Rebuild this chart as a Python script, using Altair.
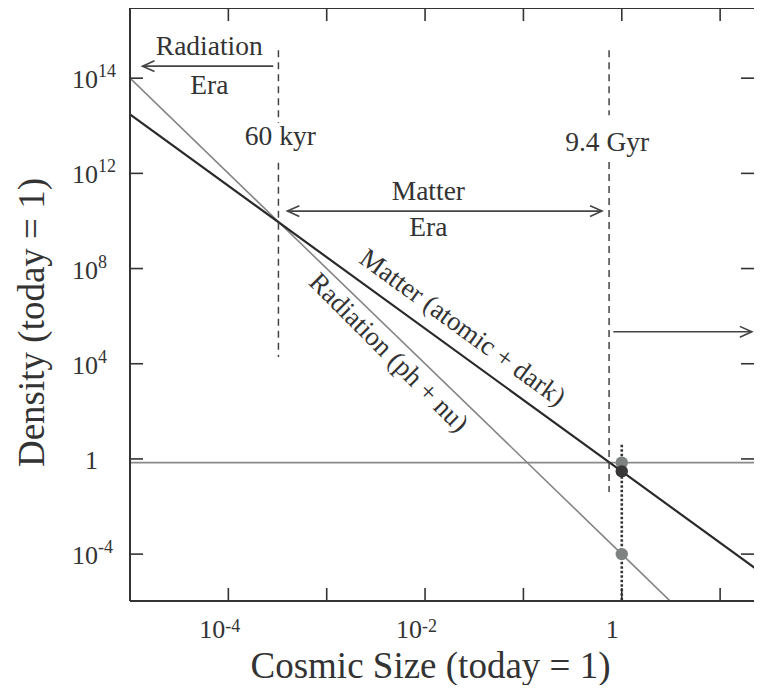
import altair as alt
import pandas as pd

# ---------------- data ----------------
# density lines (cosmic size a, density relative to today)
size_pts = [1e-5, 1.0, 30.0]
matter_density = [3e14, 0.3, 1.1e-5]
radiation_density = [1e16, 1e-4, 1.2e-10]
dark_energy_density = [0.7, 0.7, 0.7]

# today's values (dots at a = 1)
today_size = [1.0, 1.0, 1.0]
today_density = [0.7, 0.3, 1e-4]
today_color = ["#7e8381", "#383838", "#7e8381"]

# axis ticks and labels
x_ticks = [1e-4, 1e-3, 1e-2, 1e-1, 1.0, 10.0]
x_label_vals = [1e-4, 1e-2, 1.0]
x_label_base = ["10", "10", "1"]
x_label_exp = ["-4", "-2", ""]
y_ticks = [1e-4, 1.0, 1e4, 1e8, 1e12, 1e16]
y_label_base = ["10", "1", "10", "10", "10", "10"]
y_label_exp = ["-4", "", "4", "8", "12", "14"]

# era boundary dashed lines (two segments each, gap for the label)
dash_size = [3.23e-4, 3.23e-4, 0.743, 0.743]
dash_top = [1.5e17, 2.8e12, 1.5e17, 3.0e12]
dash_bottom = [1.3e14, 1.9e4, 2.8e14, 0.041]

# dotted line at today
dotted_size = [1.0]
dotted_top = [3.9]
dotted_bottom = [1e-7]

# arrows
arrow_from = [2.86e-4, 3.98e-4, 0.82]
arrow_to = [1.34e-5, 0.63, 21.0]
arrow_density = [3.2e16, 2.6e10, 2.2e5]
head_left_size = [1.34e-5, 3.98e-4]
head_left_density = [3.2e16, 2.6e10]
head_right_size = [0.63, 21.0]
head_right_density = [2.6e10, 2.2e5]

# annotations
ann_text = ["Radiation", "Era", "60 kyr", "Matter", "Era", "9.4 Gyr"]
ann_size = [6.4e-5, 6.4e-5, 3.38e-4, 1.08e-2, 1.08e-2, 0.71]
ann_density = [2.04e17, 4.7e15, 3.4e13, 1.66e11, 5.1e9, 1.9e13]

line_label_text = ["Matter (atomic + dark)", "Radiation (ph + nu)"]
line_label_size = [0.0239, 4.23e-3]
line_label_density = [3.2e5, 2.85e4]
line_label_angle = [36, 45]

# ---------------- chart ----------------
W, H = 624, 593
FONT = "Liberation Serif"
INK = "#333333"

xscale = alt.Scale(type="log", domain=[1e-5, 22.1], nice=False)
yscale = alt.Scale(type="log", domain=[1.07e-6, 8.9e18], nice=False)
xaxis = alt.Axis(title="Cosmic Size (today = 1)", labels=False, ticks=False, domain=False,
                 grid=False, titleFont=FONT, titleFontSize=37, titleFontWeight="normal",
                 titleColor=INK, titleX=300, titleY=76, titleBaseline="alphabetic",
                 titleAlign="center")
yaxis = alt.Axis(title="Density (today = 1)", labels=False, ticks=False, domain=False,
                 grid=False, titleFont=FONT, titleFontSize=37, titleFontWeight="normal",
                 titleColor=INK, titleX=-87, titleY=314, titleAngle=-90,
                 titleBaseline="alphabetic", titleAlign="center")


def X(f):
    return alt.X(f, type="quantitative", scale=xscale, axis=xaxis)


def Y(f):
    return alt.Y(f, type="quantitative", scale=yscale, axis=yaxis)


lines_df = pd.DataFrame({
    "a": size_pts * 3,
    "rho": matter_density + radiation_density + dark_energy_density,
    "series": ["matter"] * 3 + ["radiation"] * 3 + ["dark"] * 3,
})

matter = alt.Chart(lines_df[lines_df.series == "matter"]).mark_line(
    clip=True, color="#2a2a2a", strokeWidth=2.2).encode(x=X("a"), y=Y("rho"))
radiation = alt.Chart(lines_df[lines_df.series == "radiation"]).mark_line(
    clip=True, color="#858585", strokeWidth=1.6).encode(x=X("a"), y=Y("rho"))
dark = alt.Chart(lines_df[lines_df.series == "dark"]).mark_line(
    clip=True, color="#8a8a8a", strokeWidth=1.8).encode(x=X("a"), y=Y("rho"))

dash_df = pd.DataFrame({"a": dash_size, "top": dash_top, "bot": dash_bottom})
dashed = alt.Chart(dash_df).mark_rule(color="#444444", strokeWidth=1.5,
                                      strokeDash=[7, 5], clip=True).encode(
    x=X("a"), y=Y("top"), y2="bot")

dot_df = pd.DataFrame({"a": dotted_size, "top": dotted_top, "bot": dotted_bottom})
dotted = alt.Chart(dot_df).mark_rule(color="#333333", strokeWidth=2.6,
                                     strokeDash=[2.5, 2], clip=True).encode(
    x=X("a"), y=Y("top"), y2="bot")

arrow_df = pd.DataFrame({"a1": arrow_from, "a2": arrow_to, "rho": arrow_density})
arrows = alt.Chart(arrow_df).mark_rule(color="#444444", strokeWidth=1.6).encode(
    x=X("a1"), x2="a2", y=Y("rho"))
hl_df = pd.DataFrame({"a": head_left_size, "rho": head_left_density})
heads_left = alt.Chart(hl_df).mark_point(
    shape="M1,-0.45L0,0L1,0.45", size=576, filled=False, color="#444444",
    strokeWidth=1.6, opacity=1).encode(x=X("a"), y=Y("rho"))
hr_df = pd.DataFrame({"a": head_right_size, "rho": head_right_density})
heads_right = alt.Chart(hr_df).mark_point(
    shape="M-1,-0.45L0,0L-1,0.45", size=576, filled=False, color="#444444",
    strokeWidth=1.6, opacity=1).encode(x=X("a"), y=Y("rho"))

today_df = pd.DataFrame({"a": today_size, "rho": today_density, "c": today_color})
dots = alt.Chart(today_df).mark_circle(size=155, opacity=1).encode(
    x=X("a"), y=Y("rho"), color=alt.Color("c:N", scale=None))

ann_df = pd.DataFrame({"a": ann_size, "rho": ann_density, "t": ann_text})
ann = alt.Chart(ann_df).mark_text(font=FONT, fontSize=27.5, color=INK,
                                  baseline="middle", align="center").encode(
    x=X("a"), y=Y("rho"), text="t:N")

line_labels = []
for t, a, r, ang in zip(line_label_text, line_label_size, line_label_density, line_label_angle):
    d = pd.DataFrame({"a": [a], "rho": [r], "t": [t]})
    line_labels.append(alt.Chart(d).mark_text(
        font=FONT, fontSize=27, color=INK, angle=ang, baseline="middle",
        align="center").encode(x=X("a"), y=Y("rho"), text="t:N"))

# frame: left, top and bottom edges (right edge lies off the cropped page)
frame_style = dict(color="#333333", strokeWidth=2)
frame_left = alt.Chart(pd.DataFrame({"k": [0]})).mark_rule(**frame_style).encode(
    x=alt.value(0), y=alt.value(0), y2=alt.value(H))
frame_top = alt.Chart(pd.DataFrame({"k": [0]})).mark_rule(**frame_style).encode(
    y=alt.value(0), x=alt.value(0), x2=alt.value(W))
frame_bottom = alt.Chart(pd.DataFrame({"k": [0]})).mark_rule(**frame_style).encode(
    y=alt.value(H), x=alt.value(0), x2=alt.value(W))

# tick marks (pointing inward on all four sides)
xt_df = pd.DataFrame({"v": x_ticks})
yt_df = pd.DataFrame({"v": y_ticks})
TICK = 13
tick_style = dict(color="#333333", strokeWidth=1.6)
ticks_bottom = alt.Chart(xt_df).mark_rule(**tick_style).encode(
    x=X("v"), y=alt.value(H - TICK), y2=alt.value(H))
ticks_top = alt.Chart(xt_df).mark_rule(**tick_style).encode(
    x=X("v"), y=alt.value(0), y2=alt.value(TICK))
ticks_left = alt.Chart(yt_df).mark_rule(**tick_style).encode(
    y=Y("v"), x=alt.value(0), x2=alt.value(TICK))
ticks_right = alt.Chart(yt_df).mark_rule(**tick_style).encode(
    y=Y("v"), x=alt.value(W - TICK), x2=alt.value(W))

# tick labels: base and superscript exponent
xl_df = pd.DataFrame({"v": x_label_vals, "b": x_label_base, "e": x_label_exp})
x_base = alt.Chart(xl_df).mark_text(font=FONT, fontSize=26, color=INK, align="right",
                                    baseline="alphabetic", dx=-3).encode(
    x=X("v"), y=alt.value(H + 37), text="b:N")
x_exp = alt.Chart(xl_df).mark_text(font=FONT, fontSize=18, color=INK, align="left",
                                   baseline="alphabetic", dx=-3).encode(
    x=X("v"), y=alt.value(H + 31), text="e:N")

yl_df = pd.DataFrame({"v": y_ticks, "b": y_label_base, "e": y_label_exp})
y_base = alt.Chart(yl_df).mark_text(font=FONT, fontSize=26, color=INK, align="right",
                                    baseline="middle", dy=2).encode(
    y=Y("v"), x=alt.value(-32), text="b:N")
y_exp = alt.Chart(yl_df).mark_text(font=FONT, fontSize=18, color=INK, align="left",
                                   baseline="alphabetic", dy=-1).encode(
    y=Y("v"), x=alt.value(-32), text="e:N")

chart = alt.layer(
    dark, radiation, matter, dashed, dotted, arrows, heads_left, heads_right, dots,
    ann, *line_labels, frame_left, frame_top, frame_bottom,
    ticks_bottom, ticks_top, ticks_left, ticks_right,
    x_base, x_exp, y_base, y_exp,
).properties(
    width=W, height=H,
    autosize=alt.AutoSizeParams(type="none"),
    padding={"left": 122, "top": 0, "right": 0, "bottom": 84},
    background="white",
).configure_view(strokeWidth=0)

chart.save("out.html", embed_options={"renderer": "svg", "actions": False})
